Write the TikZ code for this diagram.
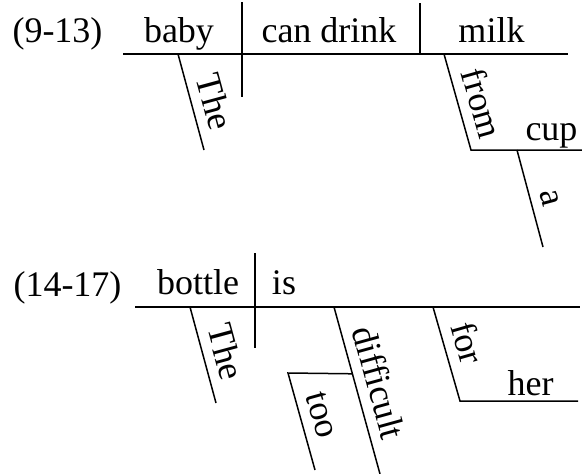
\documentclass[tikz,border=0pt]{standalone}
\usepackage{fontspec}
\setmainfont{Liberation Serif}
\usetikzlibrary{calc}
\tikzset{
  word/.style={font=\fontsize{36}{40}\selectfont, inner sep=0pt, anchor=base},
  slword/.style={font=\fontsize{36}{40}\selectfont, inner sep=0pt, sloped, above=10pt},
  ln/.style={line width=1.5pt}
}
\begin{document}
\begin{tikzpicture}[x=1pt,y=-1pt]
\useasboundingbox (0,0) rectangle (582,474);
% ---------- (9-13) ----------
\coordinate (m1s) at (123,54);
\coordinate (m1e) at (568,54);
\coordinate (v1t) at (242,2);
\coordinate (v1b) at (242,97);
\coordinate (v2t) at (420,3);
\coordinate (v2b) at (420,54);
\coordinate (th1a) at (178,54);
\coordinate (th1b) at (204,150);
\coordinate (fra) at (444,54);
\coordinate (frb) at (471,150);
\coordinate (cupe) at (582,150);
\coordinate (aa) at (517,150);
\coordinate (ab) at (543,247);

\node[word] (lab1) at (57.5,42.5) {(9-13)};
\node[word] (baby) at (179,42.5) {baby};
\node[word] (candrink) at (329,42.5) {can drink};
\node[word] (milk) at (491.5,42.5) {milk};
\node[word] (cup) at (551.5,140) {cup};

\draw[ln] (m1s) -- (m1e);
\draw[ln] (v1t) -- (v1b);
\draw[ln] (v2t) -- (v2b);
\draw[ln] (th1a) -- node[slword, pos=0.56] (the1) {The} (th1b);
\draw[ln] (fra) -- node[slword, pos=0.58] (from) {from} (frb) -- (cupe);
\draw[ln] (aa) -- node[slword, pos=0.55] (a) {a} (ab);

% ---------- (14-17) ----------
\coordinate (m2s) at (135,307);
\coordinate (m2e) at (580,307);
\coordinate (v3t) at (255,253);
\coordinate (v3b) at (255,348);
\coordinate (th2a) at (190,307);
\coordinate (th2b) at (216,403);
\coordinate (dfa) at (334,307);
\coordinate (dfb) at (380,474);
\coordinate (toj) at ($(dfa)!0.4!(dfb)$);
\coordinate (toa) at (288,373);
\coordinate (tob) at (315,470);
\coordinate (fora) at (433,307);
\coordinate (forb) at (460,401);
\coordinate (here) at (578,401);

\node[word] (lab2) at (67.5,296) {(14-17)};
\node[word] (bottle) at (198,294) {bottle};
\node[word] (is) at (284,294) {is};
\node[word] (her) at (530.5,395) {her};

\draw[ln] (m2s) -- (m2e);
\draw[ln] (v3t) -- (v3b);
\draw[ln] (th2a) -- node[slword, pos=0.53] (the2) {The} (th2b);
\draw[ln] (dfa) -- node[slword, pos=0.49] (difficult) {difficult} (dfb);
\draw[ln] (toj) -- (toa) -- node[slword, pos=0.49] (too) {too} (tob);
\draw[ln] (fora) -- node[slword, pos=0.45] (for) {for} (forb) -- (here);
\end{tikzpicture}
\end{document}
